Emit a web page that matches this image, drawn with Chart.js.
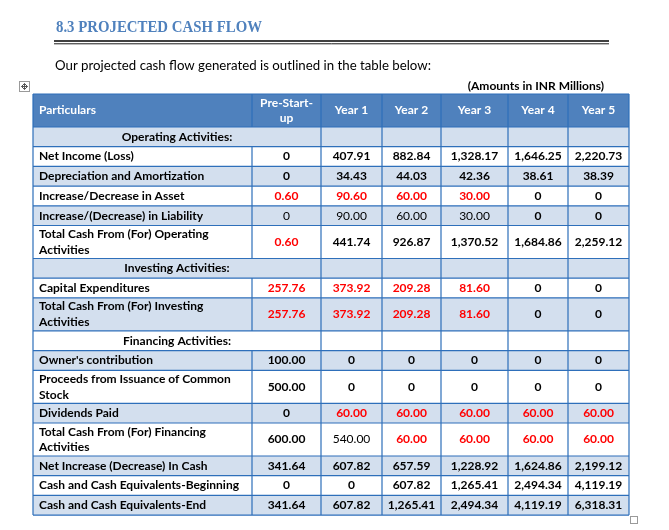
<!DOCTYPE html>
<html>
<head>
<meta charset="utf-8">
<script src="https://cdn.jsdelivr.net/npm/chart.js@4.4.1/dist/chart.umd.min.js"></script>
<style>
  html, body { margin: 0; padding: 0; background: #fff; }
  #cashFlow { display: block; }
</style>
</head>
<body>
<canvas id="cashFlow" width="669" height="530"></canvas>
<script>
const TITLE = '8.3 PROJECTED CASH FLOW';
const INTRO = 'Our projected cash flow generated is outlined in the table below:';
const UNITS = '(Amounts in INR Millions)';

const columnHeads = ['Particulars', 'Pre-Start-up', 'Year 1', 'Year 2', 'Year 3', 'Year 4', 'Year 5'];

const particulars = [
  'Operating Activities:',
  'Net Income (Loss)',
  'Depreciation and Amortization',
  'Increase/Decrease in Asset',
  'Increase/(Decrease) in Liability',
  'Total Cash From (For) Operating Activities',
  'Investing Activities:',
  'Capital Expenditures',
  'Total Cash From (For) Investing Activities',
  'Financing Activities:',
  "Owner's contribution",
  'Proceeds from Issuance of Common Stock',
  'Dividends Paid',
  'Total Cash From (For) Financing Activities',
  'Net Increase (Decrease) In Cash',
  'Cash and Cash Equivalents-Beginning',
  'Cash and Cash Equivalents-End'
];

// outflows are negative (shown in red without sign); null = section heading row
const preStartup = [null, 0, 0, -0.60, 0, -0.60, null, -257.76, -257.76, null, 100, 500, 0, 600, 341.64, 0, 341.64];
const year1 = [null, 407.91, 34.43, -90.60, 90.00, 441.74, null, -373.92, -373.92, null, 0, 0, -60, 540, 607.82, 0, 607.82];
const year2 = [null, 882.84, 44.03, -60, 60, 926.87, null, -209.28, -209.28, null, 0, 0, -60, -60, 657.59, 607.82, 1265.41];
const year3 = [null, 1328.17, 42.36, -30, 30, 1370.52, null, -81.60, -81.60, null, 0, 0, -60, -60, 1228.92, 1265.41, 2494.34];
const year4 = [null, 1646.25, 38.61, 0, 0, 1684.86, null, 0, 0, null, 0, 0, -60, -60, 1624.86, 2494.34, 4119.19];
const year5 = [null, 2220.73, 38.39, 0, 0, 2259.12, null, 0, 0, null, 0, 0, -60, -60, 2199.12, 4119.19, 6318.31];

const valueColumns = [preStartup, year1, year2, year3, year4, year5];

// styling / layout (page units, mapped through the chart scales)
const HEAD_BLUE = '#4F81BD';
const LIGHT = '#D3DFEE';
const GRID = '#2E6FBA';
const RED = '#FF0000';
const colEdges = [33, 252, 321, 382, 441, 508, 568, 629];
const tableTop = 94;
const oneLine = 19.7, twoLine = 33;
const plainCells = ['4:1', '4:2', '4:3', '4:4', '13:2'];
const BODY = '"Lato", "Liberation Sans", sans-serif';

function fmt(v) {
  if (v === 0) return '0';
  return Math.abs(v).toLocaleString('en-US', { minimumFractionDigits: 2, maximumFractionDigits: 2 });
}

function wrap(ctx, s, maxW) {
  const pieces = s.match(/[^ -]*[ -]?/g).filter(Boolean);
  const lines = [];
  let cur = '';
  pieces.forEach(p => {
    if (cur && ctx.measureText((cur + p).trimEnd()).width > maxW) {
      lines.push(cur.trimEnd());
      cur = p;
    } else cur += p;
  });
  if (cur) lines.push(cur.trimEnd());
  return lines;
}

function text(ctx, s, x, y, sx, align) {
  ctx.save();
  ctx.translate(x, y);
  ctx.scale(sx, 1);
  ctx.textAlign = align;
  ctx.fillText(s, 0, 0);
  ctx.restore();
}

const cashFlowTable = {
  id: 'cashFlowTable',
  afterDraw(chart) {
    const ctx = chart.ctx;
    const X = v => chart.scales.x.getPixelForValue(v);
    const Y = v => chart.scales.y.getPixelForValue(v);
    const fitScale = (font, s, w) => { ctx.font = font; return w / ctx.measureText(s).width; };

    // heading
    ctx.save();
    const titleFont = 'bold 17px "Liberation Serif", serif';
    const tsx = fitScale(titleFont, TITLE, X(262) - X(56));
    ctx.fillStyle = HEAD_BLUE;
    ctx.textBaseline = 'alphabetic';
    text(ctx, TITLE, X(56), Y(32), tsx, 'left');
    ctx.strokeStyle = '#000';
    ctx.lineWidth = 1.6;
    ctx.beginPath(); ctx.moveTo(X(54), Y(41)); ctx.lineTo(X(609), Y(41)); ctx.stroke();
    ctx.lineWidth = 0.9;
    ctx.beginPath(); ctx.moveTo(X(54), Y(43.8)); ctx.lineTo(X(609), Y(43.8)); ctx.stroke();

    const introFont = '13.5px ' + BODY;
    const isx = fitScale(introFont, INTRO, X(431) - X(55));
    ctx.fillStyle = '#000';
    text(ctx, INTRO, X(55), Y(69.5), isx, 'left');

    const boldFont = 'bold 12px ' + BODY;
    const plainFont = '12px ' + BODY;
    const bsx = fitScale(boldFont, 'Cash and Cash Equivalents-Beginning', 200);
    ctx.font = boldFont;
    ctx.textBaseline = 'middle';
    text(ctx, UNITS, X(604), Y(86), bsx, 'right');

    // row layout
    const labelMax = (colEdges[1] - colEdges[0] - 10) / bsx;
    const headLines = columnHeads.map((h, c) => c === 0 ? [h] : wrap(ctx, h, (colEdges[c + 1] - colEdges[c] - 8) / bsx));
    const rows = [{ head: true, h: twoLine }];
    particulars.forEach((p, i) => {
      const section = preStartup[i] === null;
      const lines = section ? [p] : wrap(ctx, p, labelMax);
      rows.push({ i, section, lines, h: lines.length > 1 ? twoLine : oneLine });
    });
    let y = tableTop;
    rows.forEach(r => { r.top = y; y += r.h; r.bottom = y; });

    // fills
    rows.forEach(r => {
      ctx.fillStyle = r.head ? HEAD_BLUE : (r.i % 2 === 0 ? LIGHT : '#fff');
      ctx.fillRect(X(colEdges[0]), Y(r.top), X(colEdges[7]) - X(colEdges[0]), Y(r.bottom) - Y(r.top));
    });

    // texts
    const lh = 15.7;
    rows.forEach(r => {
      const mid = (r.top + r.bottom) / 2;
      if (r.head) {
        ctx.fillStyle = '#fff';
        ctx.font = boldFont;
        columnHeads.forEach((h, c) => {
          const ls = headLines[c];
          ls.forEach((l, k) => {
            const ly = mid + (k - (ls.length - 1) / 2) * lh;
            if (c === 0) text(ctx, l, X(colEdges[0] + 6), Y(ly), bsx, 'left');
            else text(ctx, l, X((colEdges[c] + colEdges[c + 1]) / 2), Y(ly), bsx, 'center');
          });
        });
        return;
      }
      ctx.fillStyle = '#000';
      ctx.font = boldFont;
      if (r.section) {
        text(ctx, r.lines[0], X((colEdges[0] + colEdges[2]) / 2), Y(mid), bsx, 'center');
        return;
      }
      r.lines.forEach((l, k) => {
        const ly = mid + (k - (r.lines.length - 1) / 2) * lh;
        text(ctx, l, X(colEdges[0] + 6), Y(ly), bsx, 'left');
      });
      valueColumns.forEach((col, c) => {
        const v = col[r.i];
        ctx.font = plainCells.includes(r.i + ':' + (c + 1)) ? plainFont : boldFont;
        ctx.fillStyle = v < 0 ? RED : '#000';
        text(ctx, fmt(v), X((colEdges[c + 1] + colEdges[c + 2]) / 2), Y(mid), bsx, 'center');
      });
    });

    // grid lines
    ctx.strokeStyle = GRID;
    ctx.lineWidth = 1.2;
    ctx.beginPath();
    rows.forEach(r => {
      ctx.moveTo(X(colEdges[0]), Y(r.top)); ctx.lineTo(X(colEdges[7]), Y(r.top));
      colEdges.forEach((e, k) => {
        if (k === 1 && r.section) return;
        ctx.moveTo(X(e), Y(r.top)); ctx.lineTo(X(e), Y(r.bottom));
      });
    });
    const last = rows[rows.length - 1].bottom;
    ctx.moveTo(X(colEdges[0]), Y(last)); ctx.lineTo(X(colEdges[7]), Y(last));
    ctx.stroke();

    // table handles (move icon, resize square)
    ctx.strokeStyle = '#9A9A9A';
    ctx.lineWidth = 1;
    ctx.strokeRect(X(19.5), Y(81.5), 10, 10);
    ctx.strokeRect(X(630.5), Y(516.5), 7, 7);
    ctx.strokeStyle = '#555';
    ctx.beginPath();
    ctx.moveTo(X(21.5), Y(86.5)); ctx.lineTo(X(27.5), Y(86.5));
    ctx.moveTo(X(24.5), Y(83.5)); ctx.lineTo(X(24.5), Y(89.5));
    ctx.moveTo(X(23), Y(85)); ctx.lineTo(X(24.5), Y(83.5)); ctx.lineTo(X(26), Y(85));
    ctx.moveTo(X(23), Y(88)); ctx.lineTo(X(24.5), Y(89.5)); ctx.lineTo(X(26), Y(88));
    ctx.moveTo(X(23), Y(85)); ctx.lineTo(X(21.5), Y(86.5)); ctx.lineTo(X(23), Y(88));
    ctx.moveTo(X(26), Y(85)); ctx.lineTo(X(27.5), Y(86.5)); ctx.lineTo(X(26), Y(88));
    ctx.stroke();
    ctx.restore();
  }
};

new Chart('cashFlow', {
  type: 'scatter',
  data: { datasets: [{ data: [] }] },
  options: {
    responsive: false,
    animation: false,
    events: [],
    layout: { padding: 0 },
    plugins: { legend: { display: false }, tooltip: { enabled: false } },
    scales: {
      x: { type: 'linear', min: 0, max: 669, offset: false, display: false },
      y: { type: 'linear', min: 0, max: 530, offset: false, reverse: true, display: false }
    }
  },
  plugins: [cashFlowTable]
});
</script>
</body>
</html>
